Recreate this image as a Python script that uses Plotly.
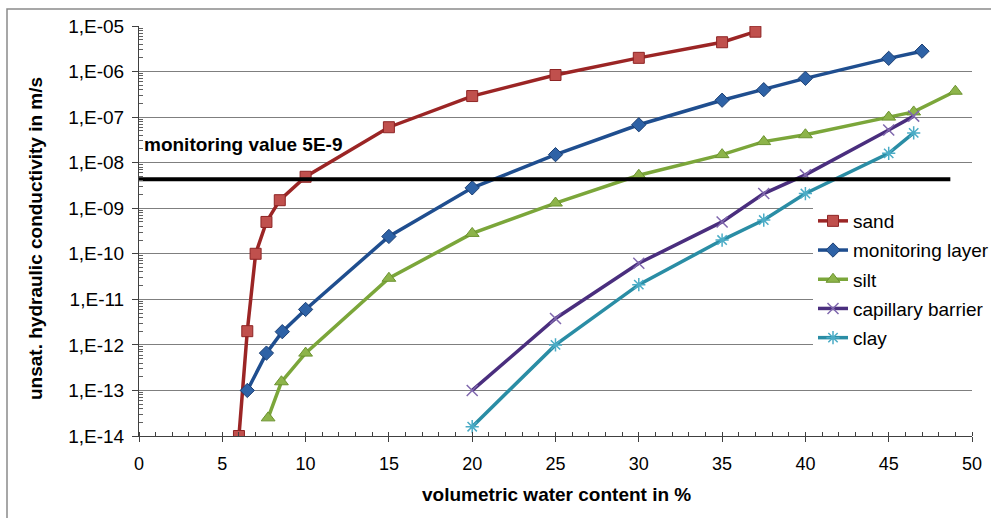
import math
import plotly.graph_objects as go

# ---------------- data ----------------
sand_x = [6, 6.5, 7, 7.65, 8.45, 10, 15, 20, 25, 30, 35, 37]
sand_y = [1e-14, 2e-12, 1e-10, 5e-10, 1.5e-9, 4.9e-9, 6e-8, 2.9e-7, 8.4e-7, 2e-6, 4.4e-6, 7.5e-6]

monitoring_x = [6.5, 7.65, 8.6, 10, 15, 20, 25, 30, 35, 37.5, 40, 45, 47]
monitoring_y = [1e-13, 6.6e-13, 1.95e-12, 6e-12, 2.4e-10, 2.8e-9, 1.5e-8, 6.8e-8, 2.35e-7, 4e-7, 7.1e-7, 1.95e-6, 2.8e-6]

silt_x = [7.75, 8.55, 10, 15, 20, 25, 30, 35, 37.5, 40, 45, 46.5, 49]
silt_y = [2.5e-14, 1.55e-13, 6.6e-13, 2.9e-11, 2.8e-10, 1.3e-9, 5.3e-9, 1.5e-8, 2.9e-8, 4.1e-8, 1.0e-7, 1.3e-7, 3.7e-7]

capillary_x = [20, 25, 30, 35, 37.5, 40, 45, 46.5]
capillary_y = [1e-13, 3.8e-12, 6.2e-11, 5e-10, 2.1e-9, 5.4e-9, 5.2e-8, 1.05e-7]

clay_x = [20, 25, 30, 35, 37.5, 40, 45, 46.5]
clay_y = [1.6e-14, 1e-12, 2.1e-11, 2e-10, 5.5e-10, 2.1e-9, 1.6e-8, 4.5e-8]

monitoring_value_x = [0, 48.7]
monitoring_value_y = [4.3e-9, 4.3e-9]
monitoring_label = "monitoring value 5E-9"
monitoring_label_x = 0.18
monitoring_label_y = 2.45e-8

y_tick_vals = [1e-14, 1e-13, 1e-12, 1e-11, 1e-10, 1e-9, 1e-8, 1e-7, 1e-6, 1e-5]
y_tick_text = ["1,E-14", "1,E-13", "1,E-12", "1,E-11", "1,E-10",
               "1,E-09", "1,E-08", "1,E-07", "1,E-06", "1,E-05"]
x_tick_vals = [0, 5, 10, 15, 20, 25, 30, 35, 40, 45, 50]

x_title = "volumetric water content in %"
y_title = "unsat. hydraulic conductivity in m/s"

# ---------------- figure ----------------
FONT = "Liberation Sans, Arial, sans-serif"
fig = go.Figure()

series = [
    ("sand", sand_x, sand_y, "#9B2525",
     dict(symbol="square", size=11, color="#C0504D", line=dict(color="#8E2424", width=1))),
    ("monitoring layer", monitoring_x, monitoring_y, "#1F4E8F",
     dict(symbol="diamond", size=11, color="#2E62A6", line=dict(color="#1C3F73", width=1))),
    ("silt", silt_x, silt_y, "#7BA63A",
     dict(symbol="triangle-up", size=12, color="#8DB44A", line=dict(color="#6C9330", width=1))),
    ("capillary barrier", capillary_x, capillary_y, "#4A2E7E",
     dict(symbol="x-thin-open", size=11, color="#8068AE", line=dict(color="#8068AE", width=1.5))),
    ("clay", clay_x, clay_y, "#2A8DA5",
     dict(symbol="asterisk-open", size=11, color="#4BACC6", line=dict(color="#4BACC6", width=1.5))),
]

for i, (name, xs, ys, lc, mk) in enumerate(series):
    fig.add_trace(go.Scatter(
        x=xs, y=ys, name=name, mode="lines+markers",
        line=dict(color=lc, width=3.5), marker=mk,
        legendgroup=f"g{i}",
    ))

fig.add_trace(go.Scatter(
    x=monitoring_value_x, y=monitoring_value_y, mode="lines",
    line=dict(color="black", width=4), showlegend=False, hoverinfo="skip",
))

W, H = 991, 518
L, R, T, B = 139, 19, 26, 82
pw, ph = W - L - R, H - T - B


def px(xp):
    return (xp - L) / pw


def py(yp):
    return 1 - (yp - T) / ph


fig.update_layout(
    width=W, height=H,
    margin=dict(l=L, r=R, t=T, b=B, autoexpand=False),
    paper_bgcolor="white", plot_bgcolor="white",
    font=dict(family=FONT, size=19, color="black"),
    showlegend=True,
    legend=dict(
        xref="container", yref="container",
        x=813 / W, y=1 - 202 / H, xanchor="left", yanchor="top",
        bgcolor="white", borderwidth=0,
        font=dict(family=FONT, size=19, color="black"),
        tracegroupgap=1.5, itemwidth=30,
    ),
    xaxis=dict(
        range=[0, 50], tickvals=x_tick_vals,
        automargin=False,
        showgrid=False, zeroline=False,
        showline=True, linecolor="#404040", linewidth=1,
        ticks="outside", ticklen=5, tickcolor="#404040",
        tickfont=dict(family=FONT, size=18, color="black"),
        ticklabelstandoff=6,
        minor=dict(dtick=1, ticks="inside", ticklen=4, tickcolor="#404040", showgrid=False),
    ),
    yaxis=dict(
        type="log", range=[-14, -5],
        automargin=False,
        tickmode="array", tickvals=y_tick_vals, ticktext=y_tick_text,
        showgrid=True, gridcolor="#7f7f7f", gridwidth=1,
        zeroline=False,
        showline=True, linecolor="#404040", linewidth=1,
        ticks="outside", ticklen=6, tickcolor="#404040",
        tickfont=dict(family=FONT, size=19, color="black"),
        ticklabelstandoff=4,
        minor=dict(
            tickvals=[m * 10.0 ** e for e in range(-14, -5) for m in range(2, 10)],
            ticks="inside", ticklen=4, tickcolor="#606060", showgrid=False,
        ),
    ),
    annotations=[
        dict(text=f"<b>{monitoring_label}</b>", xref="x", yref="y",
             x=monitoring_label_x, y=math.log10(monitoring_label_y),
             xanchor="left", yanchor="middle",
             showarrow=False, font=dict(family=FONT, size=19, color="black")),
        dict(text=f"<b>{x_title}</b>", xref="paper", yref="paper",
             x=px(556), y=py(495), xanchor="center", yanchor="middle",
             showarrow=False, font=dict(family=FONT, size=19, color="black")),
        dict(text=f"<b>{y_title}</b>", xref="paper", yref="paper",
             x=px(35.5), y=py(238.5), xanchor="center", yanchor="middle",
             textangle=-90, showarrow=False,
             font=dict(family=FONT, size=19, color="black")),
    ],
    shapes=[
        dict(type="rect", xref="paper", yref="paper",
             x0=px(7), x1=px(1000), y0=py(530), y1=py(9),
             line=dict(color="#8a8a8a", width=1.5), layer="below"),
    ],
)

fig.write_html(
    "out.html",
    config={"displayModeBar": False},
    post_script="document.body.style.margin='0px';document.body.style.overflow='hidden';",
)
